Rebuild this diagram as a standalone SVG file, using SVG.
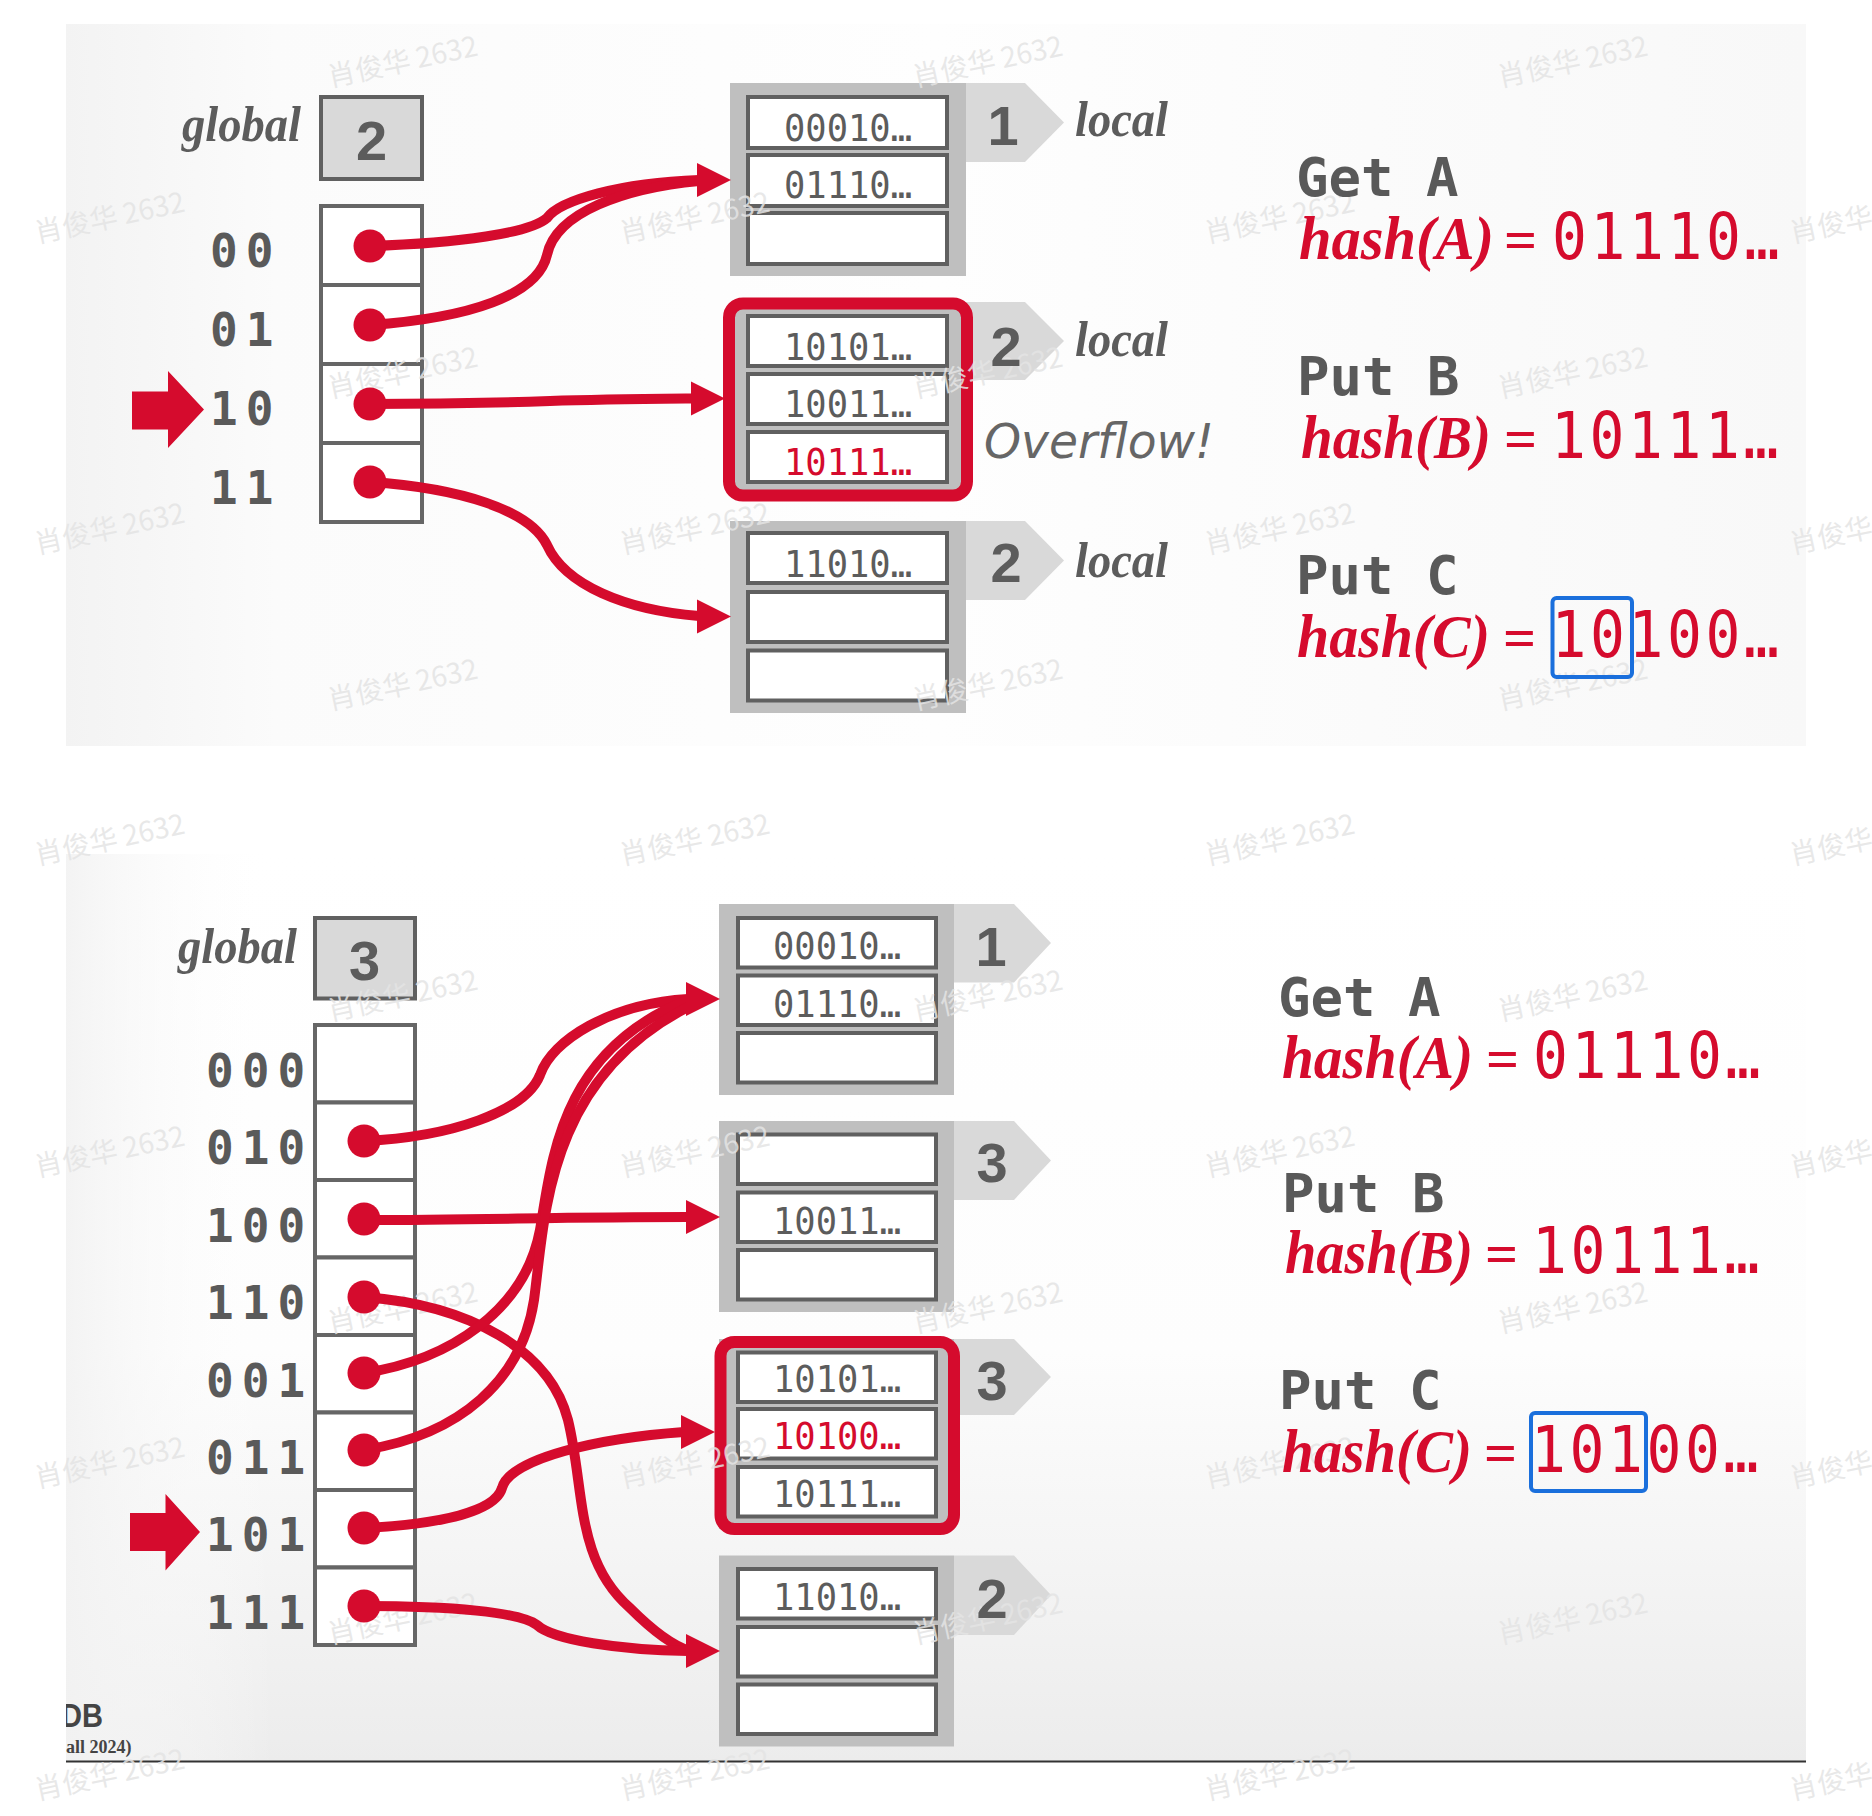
<svg xmlns="http://www.w3.org/2000/svg" width="1872" height="1816" viewBox="0 0 1872 1816">
<defs>
<style>
.gl{font-family:"Liberation Serif",serif;font-style:italic;font-weight:bold;font-size:50px;fill:#5c5c5c}
.num{font-family:"Liberation Sans",sans-serif;font-weight:bold;font-size:56px;fill:#5c5c5c;text-anchor:middle}
.lbl{font-family:"DejaVu Sans Mono",monospace;font-weight:bold;font-size:46px;letter-spacing:8px;fill:#5a5a5a}
.slottxt{font-family:"DejaVu Sans Mono",monospace;font-size:37px;fill:#5c5c5c;text-anchor:middle}
.red{fill:#d50b2d}
.op{font-family:"DejaVu Sans Mono",monospace;font-weight:bold;font-size:54px;fill:#595959}
.hash{font-family:"Liberation Serif",serif;font-style:italic;font-weight:bold;font-size:62px;fill:#d50b2d}
.eq{font-family:"Liberation Serif",serif;font-weight:bold;font-size:58px;fill:#d50b2d}
.bits{font-family:"DejaVu Sans Mono",monospace;font-size:58px;letter-spacing:3.6px;fill:#d50b2d}
.ovf{font-family:"DejaVu Sans",sans-serif;font-style:italic;font-size:48px;fill:#666666}
.wm{font-family:"Noto Sans CJK SC","Liberation Sans",sans-serif;font-size:28px;fill:#e4e4e4;fill-opacity:0.85}
.gbox{fill:#d9d9d9;stroke:#606060;stroke-width:4}
.cell{fill:#ffffff;stroke:#666666;stroke-width:4}
.bucket{fill:#bfbfbf}
.slot{fill:#ffffff;stroke:#606060;stroke-width:4}
.tab{fill:#d9d9d9}
.ovr{fill:none;stroke:#d50b2d;stroke-width:12}
.conn{fill:none;stroke:#d50b2d;stroke-width:10;stroke-linecap:round}
.dot{fill:#d50b2d}
.blue{fill:none;stroke:#1a6fdc;stroke-width:4}
</style>
<linearGradient id="gTop" x1="0" y1="0" x2="1" y2="0">
<stop offset="0" stop-color="#f3f3f3"/>
<stop offset="0.12" stop-color="#fbfbfb"/>
<stop offset="0.5" stop-color="#fefefe"/>
<stop offset="1" stop-color="#f8f8f8"/>
</linearGradient>
<linearGradient id="gBot" x1="0" y1="0" x2="0" y2="1">
<stop offset="0" stop-color="#ffffff"/>
<stop offset="0.55" stop-color="#fdfdfd"/>
<stop offset="1" stop-color="#ececec"/>
</linearGradient>
<linearGradient id="gBotL" x1="0" y1="0" x2="1" y2="0">
<stop offset="0" stop-color="#f2f2f2" stop-opacity="0.9"/>
<stop offset="0.12" stop-color="#ffffff" stop-opacity="0"/>
<stop offset="1" stop-color="#ffffff" stop-opacity="0"/>
</linearGradient>
<path id="ah" d="M0,-17 L34,0 L0,17 Z" fill="#d50b2d"/>
<clipPath id="clipL"><rect x="66" y="1690" width="300" height="70"/></clipPath>
</defs>

<g id="panels">
<rect x="66" y="24" width="1740" height="722" fill="url(#gTop)"/>
<rect x="66" y="854" width="1740" height="907" fill="url(#gBot)"/>
<rect x="66" y="854" width="1740" height="907" fill="url(#gBotL)"/>
<line x1="66" y1="1761.5" x2="1806" y2="1761.5" stroke="#333333" stroke-width="2"/>
</g>

<!-- TOP PANEL -->
<g id="top-global">
<text class="gl" x="182" y="141" textLength="119" lengthAdjust="spacingAndGlyphs">global</text>
<rect class="gbox" x="321" y="97" width="101" height="82"/>
<text class="num" x="371.5" y="160">2</text>
</g>
<g id="top-directory">
<rect class="cell" x="321" y="206" width="101" height="79"/>
<rect class="cell" x="321" y="285" width="101" height="79"/>
<rect class="cell" x="321" y="364" width="101" height="79"/>
<rect class="cell" x="321" y="443" width="101" height="79"/>
<text class="lbl" x="210" y="267">00</text>
<text class="lbl" x="210" y="346">01</text>
<text class="lbl" x="210" y="425">10</text>
<text class="lbl" x="210" y="504">11</text>
<polygon class="red" points="132,391.5 168,391.5 168,371 204,409.5 168,448 168,429.5 132,429.5"/>
</g>
<g id="top-bucket1">
<rect class="bucket" x="730" y="83" width="236" height="193"/>
<rect class="slot" x="748" y="97" width="199" height="51"/>
<rect class="slot" x="748" y="155" width="199" height="51"/>
<rect class="slot" x="748" y="213" width="199" height="51"/>
<polygon class="tab" points="966,83 1025,83 1064,122.5 1025,162 966,162"/>
</g>
<g id="top-bucket2">
<rect class="bucket" x="730" y="304" width="236" height="191"/>
<rect class="slot" x="748" y="316" width="199" height="50"/>
<rect class="slot" x="748" y="374" width="199" height="50"/>
<rect class="slot" x="748" y="432" width="199" height="50"/>
<polygon class="tab" points="966,302 1025,302 1064,341 1025,380 966,380"/>
<rect class="ovr" x="729" y="303.5" width="238" height="192" rx="14"/>
</g>
<g id="top-bucket3">
<rect class="bucket" x="730" y="521" width="236" height="192"/>
<rect class="slot" x="748" y="533" width="199" height="50"/>
<rect class="slot" x="748" y="592" width="199" height="50"/>
<rect class="slot" x="748" y="650.5" width="199" height="50"/>
<polygon class="tab" points="966,521 1025,521 1064,560.5 1025,600 966,600"/>
</g>

<!-- BOTTOM PANEL -->
<g id="bot-global">
<text class="gl" x="178" y="963" textLength="119" lengthAdjust="spacingAndGlyphs">global</text>
<rect class="gbox" x="315" y="918" width="100" height="80.5"/>
<text class="num" x="364.5" y="979.5">3</text>
</g>
<g id="bot-directory">
<rect class="cell" x="315" y="1025" width="100" height="77.5"/>
<rect class="cell" x="315" y="1102.5" width="100" height="77.5"/>
<rect class="cell" x="315" y="1180" width="100" height="77.5"/>
<rect class="cell" x="315" y="1257.5" width="100" height="77.5"/>
<rect class="cell" x="315" y="1335" width="100" height="77.5"/>
<rect class="cell" x="315" y="1412.5" width="100" height="77.5"/>
<rect class="cell" x="315" y="1490" width="100" height="77.5"/>
<rect class="cell" x="315" y="1567.5" width="100" height="77.5"/>
<text class="lbl" x="206" y="1086.5">000</text>
<text class="lbl" x="206" y="1164">010</text>
<text class="lbl" x="206" y="1241.5">100</text>
<text class="lbl" x="206" y="1319">110</text>
<text class="lbl" x="206" y="1396.5">001</text>
<text class="lbl" x="206" y="1474">011</text>
<text class="lbl" x="206" y="1551">101</text>
<text class="lbl" x="206" y="1628.5">111</text>
<polygon class="red" points="130,1513 165.5,1513 165.5,1494 200,1532 165.5,1570.5 165.5,1551 130,1551"/>
</g>
<g id="bot-bucket1">
<rect class="bucket" x="719" y="904" width="235" height="191"/>
<rect class="slot" x="738" y="918" width="198" height="49.5"/>
<rect class="slot" x="738" y="975.5" width="198" height="49.5"/>
<rect class="slot" x="738" y="1033" width="198" height="49.5"/>
<polygon class="tab" points="954,904 1014,904 1051,943 1014,982.5 954,982.5"/>
</g>
<g id="bot-bucket2">
<rect class="bucket" x="719" y="1121" width="235" height="191"/>
<rect class="slot" x="738" y="1134.5" width="198" height="49.5"/>
<rect class="slot" x="738" y="1192.5" width="198" height="49.5"/>
<rect class="slot" x="738" y="1250" width="198" height="49.5"/>
<polygon class="tab" points="954,1121 1014,1121 1051,1160.5 1014,1200 954,1200"/>
</g>
<g id="bot-bucket3">
<rect class="bucket" x="719" y="1339" width="235" height="190"/>
<rect class="slot" x="738" y="1352.5" width="198" height="49.5"/>
<rect class="slot" x="738" y="1409" width="198" height="49.5"/>
<rect class="slot" x="738" y="1467" width="198" height="49.5"/>
<polygon class="tab" points="954,1339 1014,1339 1051,1377 1014,1415 954,1415"/>
<rect class="ovr" x="720.5" y="1342" width="233.5" height="187" rx="14"/>
</g>
<g id="bot-bucket4">
<rect class="bucket" x="719" y="1555.5" width="235" height="191"/>
<rect class="slot" x="738" y="1569" width="198" height="49.5"/>
<rect class="slot" x="738" y="1627" width="198" height="49.5"/>
<rect class="slot" x="738" y="1684.5" width="198" height="49.5"/>
<polygon class="tab" points="954,1555.5 1014,1555.5 1051,1595 1014,1635 954,1635"/>
</g>

<!-- WATERMARKS -->
<g id="watermarks">
<text class="wm" x="330" y="87" transform="rotate(-12 330 87)">肖俊华 2632</text>
<text class="wm" x="915" y="87" transform="rotate(-12 915 87)">肖俊华 2632</text>
<text class="wm" x="1500" y="87" transform="rotate(-12 1500 87)">肖俊华 2632</text>
<text class="wm" x="37" y="243" transform="rotate(-12 37 243)">肖俊华 2632</text>
<text class="wm" x="622" y="243" transform="rotate(-12 622 243)">肖俊华 2632</text>
<text class="wm" x="1207" y="243" transform="rotate(-12 1207 243)">肖俊华 2632</text>
<text class="wm" x="1792" y="243" transform="rotate(-12 1792 243)">肖俊华 2632</text>
<text class="wm" x="330" y="398" transform="rotate(-12 330 398)">肖俊华 2632</text>
<text class="wm" x="915" y="398" transform="rotate(-12 915 398)">肖俊华 2632</text>
<text class="wm" x="1500" y="398" transform="rotate(-12 1500 398)">肖俊华 2632</text>
<text class="wm" x="37" y="554" transform="rotate(-12 37 554)">肖俊华 2632</text>
<text class="wm" x="622" y="554" transform="rotate(-12 622 554)">肖俊华 2632</text>
<text class="wm" x="1207" y="554" transform="rotate(-12 1207 554)">肖俊华 2632</text>
<text class="wm" x="1792" y="554" transform="rotate(-12 1792 554)">肖俊华 2632</text>
<text class="wm" x="330" y="710" transform="rotate(-12 330 710)">肖俊华 2632</text>
<text class="wm" x="915" y="710" transform="rotate(-12 915 710)">肖俊华 2632</text>
<text class="wm" x="1500" y="710" transform="rotate(-12 1500 710)">肖俊华 2632</text>
<text class="wm" x="37" y="865" transform="rotate(-12 37 865)">肖俊华 2632</text>
<text class="wm" x="622" y="865" transform="rotate(-12 622 865)">肖俊华 2632</text>
<text class="wm" x="1207" y="865" transform="rotate(-12 1207 865)">肖俊华 2632</text>
<text class="wm" x="1792" y="865" transform="rotate(-12 1792 865)">肖俊华 2632</text>
<text class="wm" x="330" y="1021" transform="rotate(-12 330 1021)">肖俊华 2632</text>
<text class="wm" x="915" y="1021" transform="rotate(-12 915 1021)">肖俊华 2632</text>
<text class="wm" x="1500" y="1021" transform="rotate(-12 1500 1021)">肖俊华 2632</text>
<text class="wm" x="37" y="1177" transform="rotate(-12 37 1177)">肖俊华 2632</text>
<text class="wm" x="622" y="1177" transform="rotate(-12 622 1177)">肖俊华 2632</text>
<text class="wm" x="1207" y="1177" transform="rotate(-12 1207 1177)">肖俊华 2632</text>
<text class="wm" x="1792" y="1177" transform="rotate(-12 1792 1177)">肖俊华 2632</text>
<text class="wm" x="330" y="1333" transform="rotate(-12 330 1333)">肖俊华 2632</text>
<text class="wm" x="915" y="1333" transform="rotate(-12 915 1333)">肖俊华 2632</text>
<text class="wm" x="1500" y="1333" transform="rotate(-12 1500 1333)">肖俊华 2632</text>
<text class="wm" x="37" y="1488" transform="rotate(-12 37 1488)">肖俊华 2632</text>
<text class="wm" x="622" y="1488" transform="rotate(-12 622 1488)">肖俊华 2632</text>
<text class="wm" x="1207" y="1488" transform="rotate(-12 1207 1488)">肖俊华 2632</text>
<text class="wm" x="1792" y="1488" transform="rotate(-12 1792 1488)">肖俊华 2632</text>
<text class="wm" x="330" y="1644" transform="rotate(-12 330 1644)">肖俊华 2632</text>
<text class="wm" x="915" y="1644" transform="rotate(-12 915 1644)">肖俊华 2632</text>
<text class="wm" x="1500" y="1644" transform="rotate(-12 1500 1644)">肖俊华 2632</text>
<text class="wm" x="37" y="1800" transform="rotate(-12 37 1800)">肖俊华 2632</text>
<text class="wm" x="622" y="1800" transform="rotate(-12 622 1800)">肖俊华 2632</text>
<text class="wm" x="1207" y="1800" transform="rotate(-12 1207 1800)">肖俊华 2632</text>
<text class="wm" x="1792" y="1800" transform="rotate(-12 1792 1800)">肖俊华 2632</text>
</g>

<!-- BUCKET TEXTS -->
<g id="top-bucket-texts">
<text class="slottxt" x="848" y="140.5" textLength="128" lengthAdjust="spacingAndGlyphs">00010…</text>
<text class="slottxt" x="848" y="198" textLength="128" lengthAdjust="spacingAndGlyphs">01110…</text>
<text class="num" x="1003" y="145">1</text>
<text class="gl" x="1075" y="136" textLength="93" lengthAdjust="spacingAndGlyphs">local</text>
<text class="slottxt" x="848" y="359.5" textLength="128" lengthAdjust="spacingAndGlyphs">10101…</text>
<text class="slottxt" x="848" y="417" textLength="128" lengthAdjust="spacingAndGlyphs">10011…</text>
<text class="slottxt red" x="848" y="475" textLength="128" lengthAdjust="spacingAndGlyphs">10111…</text>
<text class="num" x="1006" y="366">2</text>
<text class="gl" x="1075" y="356" textLength="93" lengthAdjust="spacingAndGlyphs">local</text>
<text class="ovf" x="984" y="458" textLength="230" lengthAdjust="spacingAndGlyphs">Overflow!</text>
<text class="slottxt" x="848" y="576.5" textLength="128" lengthAdjust="spacingAndGlyphs">11010…</text>
<text class="num" x="1006" y="582">2</text>
<text class="gl" x="1075" y="577" textLength="93" lengthAdjust="spacingAndGlyphs">local</text>
</g>
<g id="bot-bucket-texts">
<text class="slottxt" x="837" y="959" textLength="128" lengthAdjust="spacingAndGlyphs">00010…</text>
<text class="slottxt" x="837" y="1016.5" textLength="128" lengthAdjust="spacingAndGlyphs">01110…</text>
<text class="num" x="991" y="966">1</text>
<text class="slottxt" x="837" y="1233.5" textLength="128" lengthAdjust="spacingAndGlyphs">10011…</text>
<text class="num" x="992" y="1182">3</text>
<text class="slottxt" x="837" y="1392" textLength="128" lengthAdjust="spacingAndGlyphs">10101…</text>
<text class="slottxt red" x="837" y="1449" textLength="128" lengthAdjust="spacingAndGlyphs">10100…</text>
<text class="slottxt" x="837" y="1507" textLength="128" lengthAdjust="spacingAndGlyphs">10111…</text>
<text class="num" x="992" y="1400">3</text>
<text class="slottxt" x="837" y="1609.5" textLength="128" lengthAdjust="spacingAndGlyphs">11010…</text>
<text class="num" x="992" y="1618">2</text>
</g>

<!-- RIGHT SIDE OPERATIONS -->
<g id="top-ops">
<text class="op" x="1296" y="196">Get A</text>
<text class="hash" x="1299" y="259" textLength="195" lengthAdjust="spacingAndGlyphs">hash(A)</text>
<text class="eq" x="1504" y="259">=</text>
<text class="bits" transform="translate(1552,259) scale(1,1.11)" x="0" y="0">01110…</text>
<text class="op" x="1297" y="395">Put B</text>
<text class="hash" x="1301" y="458" textLength="190" lengthAdjust="spacingAndGlyphs">hash(B)</text>
<text class="eq" x="1504" y="458">=</text>
<text class="bits" transform="translate(1551,458) scale(1,1.11)" x="0" y="0">10111…</text>
<text class="op" x="1296" y="594">Put C</text>
<text class="hash" x="1297" y="657" textLength="193" lengthAdjust="spacingAndGlyphs">hash(C)</text>
<text class="eq" x="1503" y="657">=</text>
<text class="bits" transform="translate(1551.5,657) scale(1,1.11)" x="0" y="0">10100…</text>
<rect class="blue" x="1552.5" y="598" width="79.5" height="79" rx="4"/>
</g>
<g id="bot-ops">
<text class="op" x="1278" y="1016">Get A</text>
<text class="hash" x="1282" y="1078" textLength="191" lengthAdjust="spacingAndGlyphs">hash(A)</text>
<text class="eq" x="1486" y="1078">=</text>
<text class="bits" transform="translate(1533,1078) scale(1,1.11)" x="0" y="0">01110…</text>
<text class="op" x="1282" y="1212">Put B</text>
<text class="hash" x="1285" y="1273" textLength="188" lengthAdjust="spacingAndGlyphs">hash(B)</text>
<text class="eq" x="1485" y="1273">=</text>
<text class="bits" transform="translate(1532,1273) scale(1,1.11)" x="0" y="0">10111…</text>
<text class="op" x="1279" y="1409">Put C</text>
<text class="hash" x="1282" y="1472" textLength="190" lengthAdjust="spacingAndGlyphs">hash(C)</text>
<text class="eq" x="1484" y="1472">=</text>
<text class="bits" transform="translate(1531,1472) scale(1,1.11)" x="0" y="0">10100…</text>
<rect class="blue" x="1531" y="1413" width="115" height="78" rx="4"/>
</g>

<g id="footer" clip-path="url(#clipL)">
<text x="61" y="1727" font-family="Liberation Sans, sans-serif" font-weight="bold" font-size="33" fill="#444444" textLength="42" lengthAdjust="spacingAndGlyphs">DB</text>
<text x="66" y="1752.5" font-family="Liberation Serif, serif" font-weight="bold" font-size="18" fill="#444444">all 2024)</text>
</g>

<!-- CONNECTORS -->
<g id="connectors">
<path class="conn" d="M370,246 C460,243 530,233 547,218 C560,200 620,183 699,180"/>
<path class="conn" d="M370,325 C470,318 538,295 547,255 C556,212 625,188 699,181"/>
<path class="conn" d="M370,404 C460,404 520,402 550,401 C600,399.5 650,399 694,398.5"/>
<path class="conn" d="M370,482 C460,488 530,510 547,545 C565,585 625,610 699,616"/>
<circle class="dot" cx="370" cy="246" r="16.5"/>
<circle class="dot" cx="370" cy="325" r="16.5"/>
<circle class="dot" cx="370" cy="404" r="16.5"/>
<circle class="dot" cx="370" cy="482" r="16.5"/>
<use href="#ah" x="697" y="180"/>
<use href="#ah" x="691" y="398.5"/>
<use href="#ah" x="697" y="616.5"/>

<path class="conn" d="M364,1141 C450,1137 525,1112 540,1075 C552,1040 610,1004 688,999"/>
<path class="conn" d="M364,1220 C480,1220 560,1217 688,1217"/>
<path class="conn" d="M364,1297 C470,1305 550,1350 568,1420 C585,1490 575,1560 630,1608 C650,1628 670,1645 690,1651"/>
<path class="conn" d="M364,1373 C450,1360 525,1310 540,1230 C552,1160 560,1050 688,1000"/>
<path class="conn" d="M364,1450 C460,1435 522,1380 534,1300 C545,1220 545,1080 688,1007"/>
<path class="conn" d="M364,1528 C440,1524 495,1512 502,1488 C510,1458 600,1438 684,1432"/>
<path class="conn" d="M364,1606 C450,1606 520,1612 537,1625 C553,1640 620,1650 688,1651"/>
<circle class="dot" cx="364" cy="1141" r="16.5"/>
<circle class="dot" cx="364" cy="1219" r="16.5"/>
<circle class="dot" cx="364" cy="1297" r="16.5"/>
<circle class="dot" cx="364" cy="1373" r="16.5"/>
<circle class="dot" cx="364" cy="1450" r="16.5"/>
<circle class="dot" cx="364" cy="1528" r="16.5"/>
<circle class="dot" cx="364" cy="1606" r="16.5"/>
<use href="#ah" x="686" y="999"/>
<use href="#ah" x="686" y="1217"/>
<use href="#ah" x="681" y="1432"/>
<use href="#ah" x="686" y="1651"/>
</g>
</svg>
